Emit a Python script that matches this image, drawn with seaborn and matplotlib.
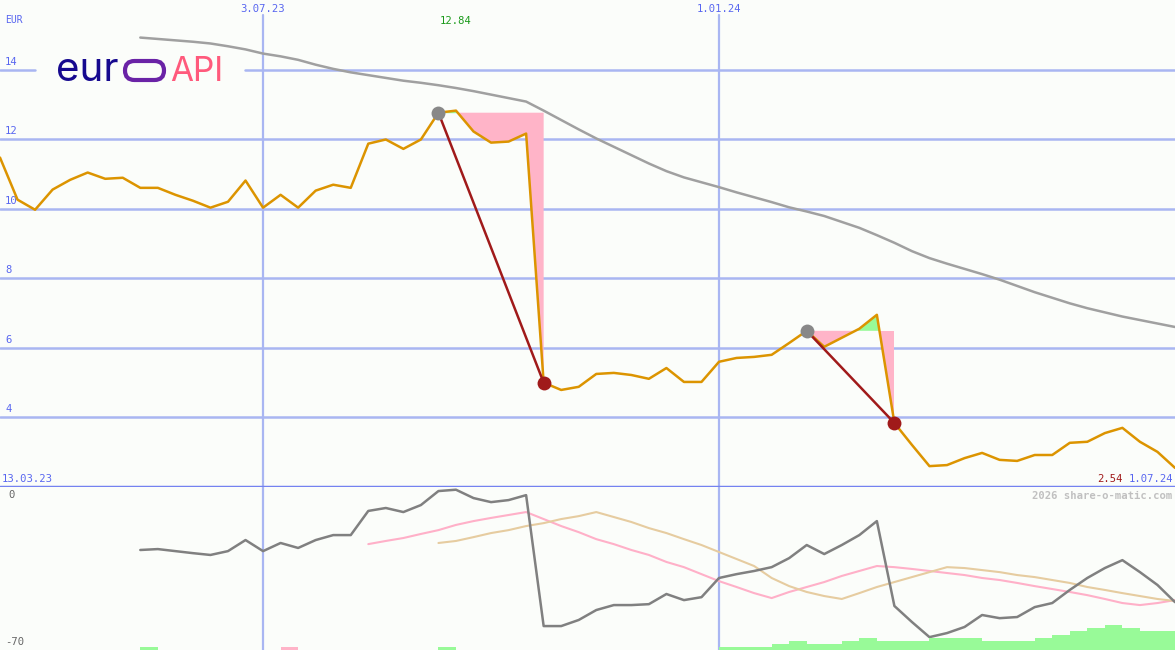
import numpy as np
import pandas as pd
import matplotlib
matplotlib.use('Agg')
import matplotlib.pyplot as plt
import matplotlib.dates as mdates
import matplotlib.transforms as mtransforms
from matplotlib.patches import FancyBboxPatch
import seaborn as sns

# weekly closes, 20.03.23 .. 1.07.24
weeks = pd.date_range('2023-03-20', periods=68, freq='7D')

price = [11.47, 10.26, 9.97, 10.55, 10.83, 11.04, 10.86, 10.89, 10.60, 10.60,
         10.40, 10.23, 10.03, 10.20, 10.81, 10.03, 10.40, 10.03, 10.52, 10.69,
         10.60, 11.87, 11.99, 11.72, 11.99, 12.76, 12.82, 12.22, 11.90, 11.93,
         12.16, 5.00, 4.79, 4.88, 5.25, 5.28, 5.22, 5.11, 5.42, 5.02,
         5.02, 5.60, 5.71, 5.74, 5.80, 6.14, 6.49, 6.03, 6.29, 6.55,
         6.95, 3.84, 3.21, 2.60, 2.63, 2.83, 2.98, 2.78, 2.75, 2.92,
         2.92, 3.27, 3.30, 3.55, 3.70, 3.30, 3.01, 2.55]

# long moving average (starts at week 8)
ma_start = 8
ma_line = [14.92, 14.88, 14.84, 14.80, 14.75, 14.67, 14.58, 14.46, 14.38, 14.28,
           14.14, 14.02, 13.92, 13.84, 13.76, 13.68, 13.62, 13.55, 13.47, 13.38,
           13.28, 13.18, 13.08, 12.82, 12.55, 12.28, 12.02, 11.78, 11.54, 11.30,
           11.08, 10.90, 10.76, 10.62, 10.47, 10.33, 10.19, 10.04, 9.92, 9.79,
           9.62, 9.45, 9.24, 9.02, 8.78, 8.58, 8.42, 8.27, 8.12, 7.96,
           7.78, 7.60, 7.44, 7.28, 7.14, 7.02, 6.90, 6.80, 6.70, 6.60]

# lower panel: momentum and its two averages
mom_start = 8
momentum = [-27.0, -26.6, -27.5, -28.4, -29.2, -27.5, -22.6, -27.5, -23.9, -26.1,
            -22.6, -20.4, -20.4, -9.7, -8.4, -10.2, -7.1, -0.9, -0.3, -4.0,
            -5.8, -4.9, -2.7, -60.7, -60.7, -58.0, -53.6, -51.4, -51.4, -51.0,
            -46.5, -49.2, -47.9, -39.4, -37.7, -36.3, -34.6, -30.6, -24.8, -28.8,
            -24.8, -20.4, -14.2, -51.8, -58.9, -65.6, -63.8, -61.1, -55.8, -57.2,
            -56.7, -52.3, -50.5, -44.7, -39.4, -35.0, -31.5, -36.8, -42.5, -50.1]

short_start = 21
mom_short = [-24.4, -23.0, -21.7, -19.9, -18.2, -15.9, -14.2, -12.8, -11.5, -10.2,
             -13.3, -16.4, -19.1, -22.2, -24.4, -27.0, -29.2, -32.3, -34.6, -37.7,
             -40.8, -43.4, -46.1, -48.3, -45.6, -43.4, -41.2, -38.5, -36.3, -34.1,
             -34.6, -35.4, -36.3, -37.2, -38.1, -39.4, -40.3, -41.6, -43.0, -44.3,
             -45.6, -47.0, -48.7, -50.5, -51.4, -50.5, -49.2]

long_start = 25
mom_long = [-23.9, -23.0, -21.3, -19.5, -18.2, -16.4, -15.1, -13.3, -12.0, -10.2,
            -12.4, -14.6, -17.3, -19.5, -22.2, -24.8, -27.9, -31.0, -34.1, -39.4,
            -43.0, -45.6, -47.4, -48.7, -46.1, -43.4, -41.2, -39.0, -36.8, -34.6,
            -35.0, -35.9, -36.8, -38.1, -39.0, -40.3, -41.6, -43.4, -44.7, -46.1,
            -47.4, -48.7, -49.6]

# signal strength bars (one per week, positive green / negative pink)
signal_bars = [0, 0, 0, 0, 0, 0, 0, 0, 1, 0,
               0, 0, 0, 0, 0, 0, -1, 0, 0, 0,
               0, 0, 0, 0, 0, 1, 0, 0, 0, 0,
               0, 0, 0, 0, 0, 0, 0, 0, 0, 0,
               0, 1, 1, 1, 2, 3, 2, 2, 3, 4,
               3, 3, 3, 4, 4, 4, 3, 3, 3, 4,
               5, 6, 7, 8, 7, 6, 6]

peak_idx = [25, 46]
drop_idx = [31, 51]
mark_dates = ['2023-07-03', '2024-01-01']
mark_labels = ['3.07.23', '1.01.24']
price_ticks = [4, 6, 8, 10, 12, 14]
high_label = '12.84'
last_label = '2.54'
first_date_label = '13.03.23'
last_date_label = '1.07.24'

BG = '#fbfdfa'
GRID = '#a9b6f2'
BLUE_TXT = '#5866f0'
ORANGE = '#dc9400'
DARKRED = '#a01a1a'
PINK = '#ffb4c8'
GREEN = '#98fa98'
FS = 7.6

sns.set_style('white')
plt.rcParams['font.family'] = ['DejaVu Sans Mono']
plt.rcParams['font.size'] = FS

W, H = 1175, 650
TOP_H, BOT_H = 487, 163
fig = plt.figure(figsize=(W / 100, H / 100), dpi=100, facecolor=BG)
ax = fig.add_axes([0, BOT_H / H, 1, TOP_H / H])
axb = fig.add_axes([0, 0, 1, BOT_H / H])
for a in (ax, axb):
    a.set_facecolor(BG)
    for s in a.spines.values():
        s.set_visible(False)
    a.set_xticks([])
    a.set_yticks([])

xn = mdates.date2num(weeks)
xlim = (xn[0], xn[-1])
price_a = np.array(price)

# ---- top panel ----
ax.set_xlim(xlim)
ax.set_ylim(2, 16)
for t in price_ticks:
    if t == 14:
        ax.axhline(t, xmax=35 / W, color=GRID, lw=1.8, zorder=0)
        ax.axhline(t, xmin=245 / W, color=GRID, lw=1.8, zorder=0)
    else:
        ax.axhline(t, color=GRID, lw=1.8, zorder=0)
    ax.text(5 / W, t + 3 / 34.75, str(t), transform=mtransforms.blended_transform_factory(ax.transAxes, ax.transData),
            color=BLUE_TXT, ha='left', va='bottom', fontsize=FS)
ax.axhline(2, color='#7482f0', lw=2.5, zorder=1, clip_on=False)

for d, lab in zip(mark_dates, mark_labels):
    dn = mdates.date2num(pd.Timestamp(d))
    ax.axvline(dn, ymax=1 - 15 / TOP_H, color=GRID, lw=1.6, zorder=0)
    axb.axvline(dn, color=GRID, lw=1.6, zorder=0)
    ax.text(dn, 1 - 9 / TOP_H, lab, transform=mtransforms.blended_transform_factory(ax.transData, ax.transAxes),
            ha='center', va='center', color=BLUE_TXT, fontsize=FS)

ax.text(5 / W, 1 - 20 / TOP_H, 'EUR', transform=ax.transAxes, color=BLUE_TXT, ha='left', va='center', fontsize=7)

sns.lineplot(x=weeks[ma_start:], y=ma_line, ax=ax, color='#a0a0a0', lw=1.8, zorder=2)

for p, q in zip(peak_idx, drop_idx):
    level = price_a[p]
    seg_x = xn[p:q + 1]
    seg_y = price_a[p:q + 1]
    ax.fill_between(seg_x, level, seg_y, where=seg_y <= level, interpolate=True, color=PINK, lw=0, zorder=3)
    ax.fill_between(seg_x, level, seg_y, where=seg_y >= level, interpolate=True, color=GREEN, lw=0, zorder=3)

sns.lineplot(x=weeks, y=price, ax=ax, color=ORANGE, lw=1.8, zorder=4)

for p, q in zip(peak_idx, drop_idx):
    ax.plot([xn[p], xn[q]], [price_a[p], price_a[q]], color=DARKRED, lw=1.8, zorder=5)
    ax.plot(xn[p], price_a[p], 'o', ms=10, color='#888888', mec='none', zorder=6)
    ax.plot(xn[q], price_a[q], 'o', ms=10, color=DARKRED, mec='none', zorder=6)

ax.text(xn[peak_idx[0]] + 7, 1 - 21 / TOP_H, high_label,
        transform=mtransforms.blended_transform_factory(ax.transData, ax.transAxes),
        color='#1a9a1a', ha='center', va='center', fontsize=FS)

ax.text(2 / W, 8 / TOP_H, first_date_label, transform=ax.transAxes, color=BLUE_TXT, ha='left', va='center', fontsize=FS)
ax.text(1173 / W, 8 / TOP_H, last_date_label, transform=ax.transAxes, color=BLUE_TXT, ha='right', va='center', fontsize=FS)
ax.text(1123 / W, 8 / TOP_H, last_label, transform=ax.transAxes, color=DARKRED, ha='right', va='center', fontsize=FS)

# logo: "eur" + stadium-shaped o + "API"
ax.text(56 / W, 1 - 81 / TOP_H, 'eur', transform=ax.transAxes, color='#16098f', fontsize=29,
        family='Inter', fontweight='normal', ha='left', va='baseline', zorder=7)
ax.add_patch(FancyBboxPatch((125, H - 80), 39, 19, boxstyle='round,pad=0,rounding_size=9.5',
                            transform=mtransforms.IdentityTransform(),
                            fill=False, ec='#6a23a6', lw=3.0, zorder=7))
ax.text(170 / W, 1 - 81 / TOP_H, 'API', transform=ax.transAxes, color='#ff5a7c', fontsize=24,
        family='Inter', fontweight='normal', ha='left', va='baseline', zorder=7)

# ---- bottom panel ----
axb.set_xlim(xlim)
axb.set_ylim(-71.3, 0.9)
sns.lineplot(x=weeks[short_start:], y=mom_short, ax=axb, color='#ffb0c8', lw=1.5, zorder=2)
sns.lineplot(x=weeks[long_start:], y=mom_long, ax=axb, color='#e6cca0', lw=1.5, zorder=2)
sns.lineplot(x=weeks[mom_start:], y=momentum, ax=axb, color='#808080', lw=1.8, zorder=3)
axb.set_xlabel('')
axb.set_ylabel('')
ax.set_xlabel('')
ax.set_ylabel('')

axs = axb.twinx()
axs.set_ylim(0, BOT_H / 3.1)
axs.set_xlim(xlim)
sig = np.array(signal_bars)
axs.bar(xn[:len(sig)], np.abs(sig), width=7, align='edge',
        color=[GREEN if v > 0 else PINK for v in sig], lw=0, zorder=1)
axs.set_yticks([])
for s in axs.spines.values():
    s.set_visible(False)

axb.text(8 / W, 1 - 8 / BOT_H, '0', transform=axb.transAxes, color='#666666', ha='left', va='center', fontsize=FS)
axb.text(5 / W, 1 - 155 / BOT_H, '-70', transform=axb.transAxes, color='#666666', ha='left', va='center', fontsize=FS)
axb.text(1172 / W, 1 - 9 / BOT_H, '2026 share-o-matic.com', transform=axb.transAxes, color='#c0c0c0',
         ha='right', va='center', fontsize=FS, fontweight='bold')

fig.savefig('out.png', dpi=100, facecolor=BG)
